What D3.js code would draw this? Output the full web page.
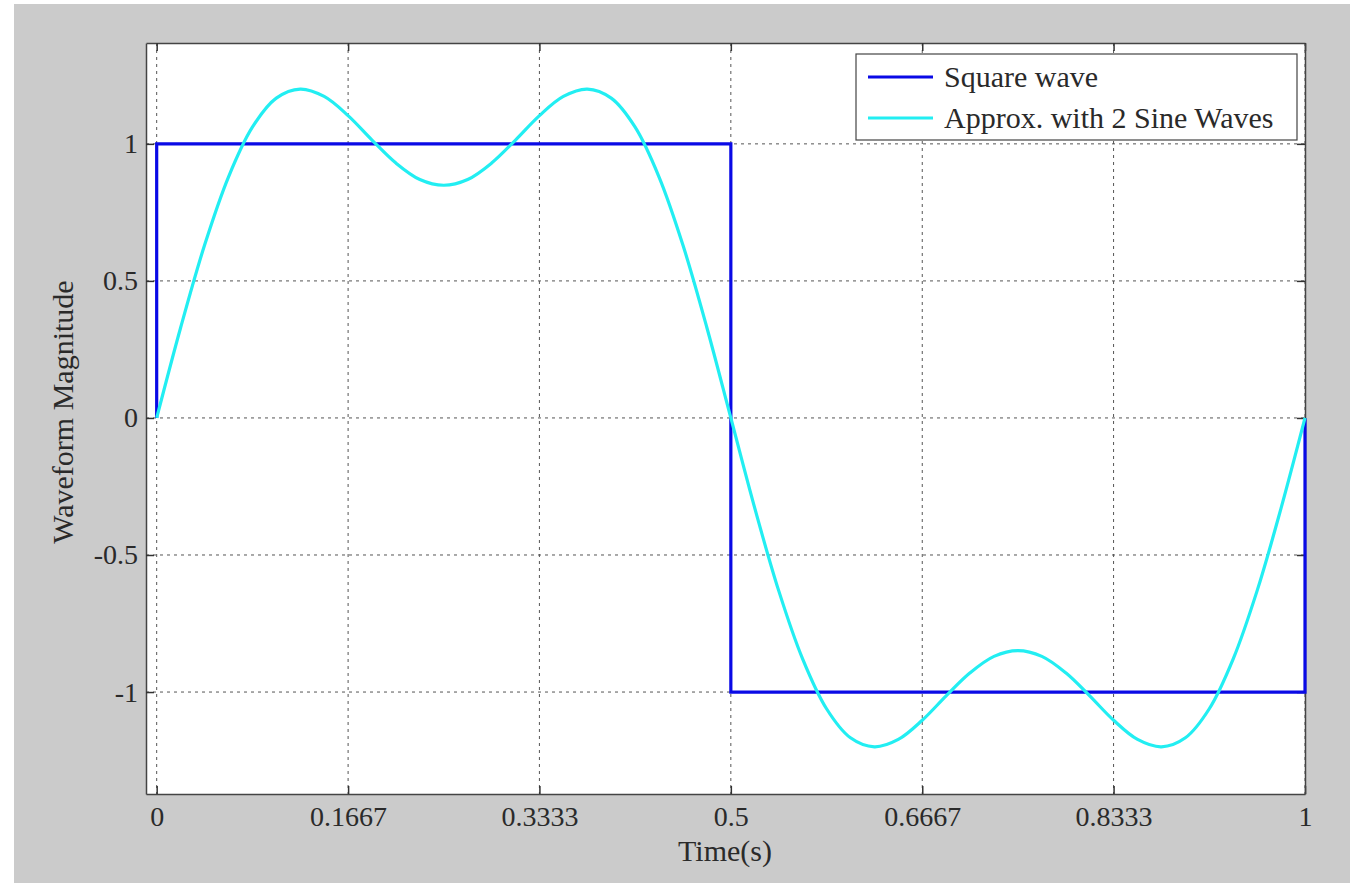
<!DOCTYPE html>
<html><head><meta charset="utf-8">
<script src="https://cdn.jsdelivr.net/npm/d3@7"></script>
<style>html,body{margin:0;padding:0;background:#fff;}</style>
</head><body>
<svg id="c" width="1371" height="895"></svg>
<script>
// ---- data ----
const xTickValues = [0, 0.1667, 0.3333, 0.5, 0.6667, 0.8333, 1];
const xTickLabels = ["0", "0.1667", "0.3333", "0.5", "0.6667", "0.8333", "1"];
const yTickValues = [-1, -0.5, 0, 0.5, 1];
const yTickLabels = ["-1", "-0.5", "0", "0.5", "1"];
const squareT = [0, 0, 0.5, 0.5, 1, 1];
const squareY = [0, 1, 1, -1, -1, 0];
// approx curve sampled every 1/48 s
const approxY = [
  0, 0.329, 0.630, 0.879, 1.061, 1.167, 1.200, 1.173, 1.103, 1.014, 0.930, 0.870, 0.849,
  0.870, 0.930, 1.014, 1.103, 1.173, 1.200, 1.167, 1.061, 0.879, 0.630, 0.329, 0,
  -0.329, -0.630, -0.879, -1.061, -1.167, -1.200, -1.173, -1.103, -1.014, -0.930, -0.870, -0.849,
  -0.870, -0.930, -1.014, -1.103, -1.173, -1.200, -1.167, -1.061, -0.879, -0.630, -0.329, 0
];
const approxT = approxY.map((_, i) => i / 48);
const seriesNames = ["Square wave", "Approx. with 2 Sine Waves"];
const seriesColors = ["#0a0ae6", "#22eef2"];

// ---- layout ----
const svg = d3.select("#c");
const font = "'Liberation Serif','Times New Roman',serif";
const textCol = "#2a2a2a";
svg.append("rect").attr("x", 14).attr("y", 4).attr("width", 1336).attr("height", 879).attr("fill", "#cbcbcb");

const L = 146, R = 1305, T = 43, B = 794;
const x = d3.scaleLinear().domain([-0.0093, 1]).range([L, R]);
const y = d3.scaleLinear().domain([-1.372, 1.368]).range([B, T]);

svg.append("rect").attr("x", L).attr("y", T).attr("width", R - L).attr("height", B - T).attr("fill", "#fff");

// grid
const grid = svg.append("g").attr("stroke", "#555").attr("stroke-width", 1).attr("stroke-dasharray", "3,4");
grid.selectAll("line.gx").data(xTickValues).join("line")
  .attr("x1", d => x(d)).attr("x2", d => x(d)).attr("y1", T).attr("y2", B);
grid.selectAll("line.gy").data(yTickValues).join("line")
  .attr("x1", L).attr("x2", R).attr("y1", d => y(d)).attr("y2", d => y(d));

// axes
const xAxis = d3.axisBottom(x).tickValues(xTickValues).tickFormat((d, i) => xTickLabels[i]).tickSizeInner(-8).tickSizeOuter(0).tickPadding(12);
const gx = svg.append("g").attr("transform", `translate(0,${B})`).call(xAxis);
const yAxis = d3.axisLeft(y).tickValues(yTickValues).tickFormat((d, i) => yTickLabels[i]).tickSizeInner(-8).tickSizeOuter(0).tickPadding(8);
const gy = svg.append("g").attr("transform", `translate(${L},0)`).call(yAxis);
const xTop = d3.axisTop(x).tickValues(xTickValues).tickFormat("").tickSizeInner(-8).tickSizeOuter(0);
const gxt = svg.append("g").attr("transform", `translate(0,${T})`).call(xTop);
const yRight = d3.axisRight(y).tickValues(yTickValues).tickFormat("").tickSizeInner(-8).tickSizeOuter(0);
const gyr = svg.append("g").attr("transform", `translate(${R},0)`).call(yRight);
[gx, gy, gxt, gyr].forEach(g => {
  g.select(".domain").attr("stroke", "#444").attr("stroke-width", 1.5);
  g.selectAll(".tick line").attr("stroke", "#333").attr("stroke-width", 1.5);
  g.selectAll("text").attr("font-family", font).attr("font-size", 28).attr("fill", textCol);
});

// axis titles
svg.append("text").attr("x", 725).attr("y", 861).attr("text-anchor", "middle")
  .attr("font-family", font).attr("font-size", 30).attr("fill", textCol).text("Time(s)");
svg.append("text").attr("transform", "translate(73,412) rotate(-90)").attr("text-anchor", "middle")
  .attr("font-family", font).attr("font-size", 30).attr("fill", textCol).text("Waveform Magnitude");

// lines
const plot = svg.append("g");
const sqLine = d3.line().x(d => x(d[0])).y(d => y(d[1]));
plot.append("path").datum(squareT.map((t, i) => [t, squareY[i]]))
  .attr("d", sqLine).attr("fill", "none").attr("stroke", seriesColors[0]).attr("stroke-width", 3.2);
const apLine = d3.line().x(d => x(d[0])).y(d => y(d[1])).curve(d3.curveCatmullRom.alpha(0.5));
plot.append("path").datum(approxT.map((t, i) => [t, approxY[i]]))
  .attr("d", apLine).attr("fill", "none").attr("stroke", seriesColors[1]).attr("stroke-width", 3.2);

// legend
const lg = svg.append("g");
lg.append("rect").attr("x", 856).attr("y", 54).attr("width", 441).attr("height", 86)
  .attr("fill", "#fff").attr("stroke", "#444").attr("stroke-width", 1.2);
seriesNames.forEach((n, i) => {
  const yy = 77 + i * 41;
  lg.append("line").attr("x1", 868).attr("x2", 933).attr("y1", yy).attr("y2", yy)
    .attr("stroke", seriesColors[i]).attr("stroke-width", 3.2);
  lg.append("text").attr("x", 944).attr("y", yy + 10).attr("font-family", font).attr("font-size", 30)
    .attr("fill", textCol).text(n);
});
</script>
</body></html>
